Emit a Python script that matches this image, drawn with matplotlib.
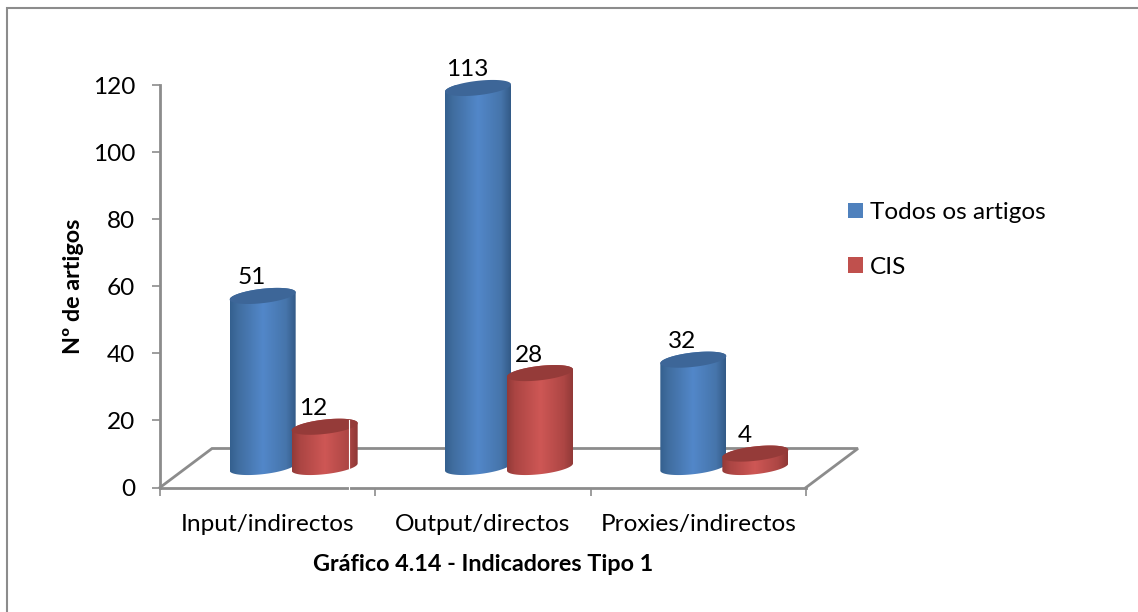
import numpy as np
import matplotlib
matplotlib.use("Agg")
import matplotlib.pyplot as plt
from matplotlib.colors import LinearSegmentedColormap
from matplotlib.lines import Line2D
from matplotlib.patches import PathPatch, Patch
from matplotlib.path import Path

categories = ["Input/indirectos", "Output/directos", "Proxies/indirectos"]
todos = [51, 113, 32]
cis = [12, 28, 4]
yticks = [0, 20, 40, 60, 80, 100, 120]

W, H = 1138, 612
GRAY = "#8c8c8c"
TXT = 17.6

plt.rcParams['font.family'] = ['Lato', 'DejaVu Sans']

fig = plt.figure(figsize=(W / 100, H / 100), dpi=100)

# Frame only runs along the left and top edges
fig.add_artist(Line2D([7 / W, 7 / W, 1], [0, 1 - 8 / H, 1 - 8 / H], transform=fig.transFigure,
                      color=GRAY, linewidth=1.5, solid_joinstyle='miter'))

# Plot area
left, right, top, bottom = 160, 806, 85, 487.5
ax = fig.add_axes([left / W, 1 - bottom / H, (right - left) / W, (bottom - top) / H])
ax.set_xlim(-0.5, 2.5)
ax.set_ylim(0, 120)

# Pixel to data conversion
px_x = 3.0 / (right - left)
px_y = 120.0 / (bottom - top)

for side in ['top', 'right']:
    ax.spines[side].set_visible(False)
for side in ['left', 'bottom']:
    ax.spines[side].set_color(GRAY)
    ax.spines[side].set_linewidth(2.0)

ax.set_yticks(yticks)
ax.set_xticks([-0.5, 0.5, 1.5, 2.5])
ax.set_xticklabels([])
ax.set_xticks([0, 1, 2], categories, minor=True)
ax.tick_params(axis='both', which='major', color=GRAY, width=1.2, length=6)
ax.tick_params(axis='y', labelsize=TXT, pad=12)
ax.tick_params(axis='x', which='minor', length=0, labelsize=TXT, pad=19)
ax.set_ylabel("Nº de artigos", fontsize=16.8, fontweight='bold', labelpad=6.5)
ax.set_xlabel("Gráfico 4.14 - Indicadores Tipo 1", fontsize=16.8, fontweight='bold', labelpad=14)

# Floor of the 3D box
depth_x = 52 * px_x
depth_y = 39 * px_y
ax.plot([-0.5, -0.5 + depth_x, 2.5 + depth_x, 2.5], [0, depth_y, depth_y, 0],
        color=GRAY, linewidth=2.0, clip_on=False, zorder=1, solid_joinstyle='miter')


def ellipse(cx, cy, t):
    # Slightly tilted ellipse, rising to the right
    a = 33 * px_x
    b = 7.2 * px_y
    rise = 3.6 * px_y
    return np.column_stack([cx + a * np.cos(t), cy + b * np.sin(t) + rise * np.cos(t)])


def cylinder(cx, value, stops, top_color, zorder):
    base = 20.5 * px_y
    cy = base + value
    lower = ellipse(cx, base, np.linspace(np.pi, 2 * np.pi, 60))
    upper = ellipse(cx, cy, np.linspace(0, np.pi, 60))
    body = Path(np.vstack([lower, upper, lower[:1]]), closed=True)
    cmap = LinearSegmentedColormap.from_list("shade", stops)
    a = 33 * px_x
    img = ax.imshow(np.linspace(0, 1, 256)[None, :], cmap=cmap, aspect='auto',
                    extent=[cx - a, cx + a, 0, cy + 10], zorder=zorder)
    img.set_clip_path(PathPatch(body, transform=ax.transData))
    cap = ellipse(cx, cy, np.linspace(0, 2 * np.pi, 120))
    ax.fill(cap[:, 0], cap[:, 1], color=top_color, zorder=zorder + 0.1, clip_on=False, linewidth=0)
    return cy


blue_stops = [(0, "#34608f"), (0.12, "#406d9f"), (0.5, "#5287c9"), (0.85, "#4675ab"), (1, "#335a87")]
red_stops = [(0, "#923a38"), (0.12, "#ab4543"), (0.5, "#ce5755"), (0.85, "#ad4644"), (1, "#8e3836")]

shift = 31 * px_x
for i, (v1, v2) in enumerate(zip(todos, cis)):
    center = i + depth_x / 2
    cy1 = cylinder(center - shift, v1, blue_stops, "#3d6698", 3 + i)
    cy2 = cylinder(center + shift, v2, red_stops, "#953b39", 3.5 + i)
    ax.annotate(str(v1), (center - shift, cy1), xytext=(-11, 18), textcoords='offset pixels',
                ha='center', va='center', fontsize=TXT, zorder=10, annotation_clip=False)
    ax.annotate(str(v2), (center + shift, cy2), xytext=(-11, 18), textcoords='offset pixels',
                ha='center', va='center', fontsize=TXT, zorder=10, annotation_clip=False)

ax.set_xlim(-0.5, 2.5)
ax.set_ylim(0, 120)

# Thin white seam crossing the first red cylinder
ax.plot([-0.5 + 189 * px_x] * 2, [-3 * px_y, 67.5 * px_y],
        color="white", linewidth=0.8, zorder=9, clip_on=False)

handles = [Patch(facecolor="#4f81bd", label="Todos os artigos"),
           Patch(facecolor="#c0504d", label="CIS")]
fig.legend(handles=handles, loc='upper left', bbox_to_anchor=(848 / W, 1 - 202 / H),
           frameon=False, fontsize=TXT, handlelength=0.61, handleheight=0.61,
           handletextpad=0.29, labelspacing=1.38, borderpad=0, borderaxespad=0)

fig.savefig("out.png", dpi=100)
